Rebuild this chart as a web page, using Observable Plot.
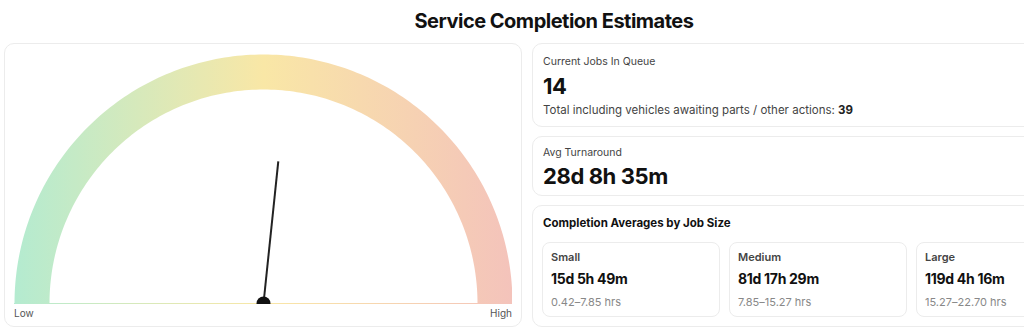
<!DOCTYPE html>
<html>
<head>
<meta charset="utf-8">
<script src="https://cdn.jsdelivr.net/npm/d3@7"></script>
<script src="https://cdn.jsdelivr.net/npm/@observablehq/plot@0.6"></script>
<style>
  html, body { margin: 0; padding: 0; background: #fff; overflow: hidden; }
  body { font-family: Inter, "Noto Sans", sans-serif; color: #111; }
  .wrap { width: 1100px; margin-left: 4px; }
  h1 { margin: 0; padding-top: 9px; height: 24px; line-height: 24px; font-size: 20px; font-weight: 700; letter-spacing: -0.5px; text-align: center; margin-bottom: 10px; color: #111; }
  .row { display: flex; gap: 10px; }
  .card { box-sizing: border-box; border: 1px solid #ececec; border-radius: 10px; background: #fff; }
  .gauge { width: 518px; height: 284px; padding: 10px 9px 0 9px; }
  .gauge svg { display: block; }
  .ends { display: flex; justify-content: space-between; margin-top: 3px; height: 12px; line-height: 12px; font-size: 10px; color: #555; }
  .right { width: 572px; display: flex; flex-direction: column; gap: 9px; }
  .c1 { height: 84px; padding: 11px 10px 0 10px; }
  .c2 { height: 60px; padding: 9px 10px 0 10px; }
  .c3 { height: 122px; padding: 10px 9px 0 9px; }
  .lbl { font-size: 10.5px; line-height: 14px; color: #444; }
  .big { font-size: 22px; line-height: 26px; font-weight: 700; color: #111; margin-top: 3px; letter-spacing: -0.4px; }
  .sub { font-size: 11.5px; line-height: 15px; color: #444; margin-top: 4px; }
  .sub b { color: #222; }
  .c3 h2 { margin: 0 0 0 1px; font-size: 11.5px; line-height: 14px; font-weight: 700; color: #111; }
  .sizes { display: flex; gap: 9px; margin-top: 12px; }
  .size { box-sizing: border-box; width: 178px; height: 75px; border: 1px solid #ececec; border-radius: 8px; padding: 7px 8px 0 8px; }
  .size .n { font-size: 11px; line-height: 14px; font-weight: 600; color: #444; }
  .size .v { font-size: 14px; line-height: 18px; font-weight: 700; color: #111; margin-top: 6px; letter-spacing: -0.3px; }
  .size .r { font-size: 11px; line-height: 14px; color: #888; margin-top: 7px; }
</style>
</head>
<body>
<div class="wrap">
  <h1 id="title"></h1>
  <div class="row">
    <div class="card gauge" id="gauge"></div>
    <div class="right">
      <div class="card c1" id="c1"></div>
      <div class="card c2" id="c2"></div>
      <div class="card c3" id="c3"></div>
    </div>
  </div>
</div>
<script>
// ---- data ----
const titleText = "Service Completion Estimates";
const gaugeDomain = [0, 1];
const gaugeValue = [0.533];
const gaugeEndLabels = ["Low", "High"];
const queueLabel = "Current Jobs In Queue";
const queueJobs = 14;
const totalLabel = "Total including vehicles awaiting parts / other actions:";
const totalJobs = 39;
const turnaroundLabel = "Avg Turnaround";
const avgTurnaround = "28d 8h 35m";
const sizeHeading = "Completion Averages by Job Size";
const jobSizes = ["Small", "Medium", "Large"];
const sizeAverages = ["15d 5h 49m", "81d 17h 29m", "119d 4h 16m"];
const sizeRanges = ["0.42–7.85 hrs", "7.85–15.27 hrs", "15.27–22.70 hrs"];

// ---- styles ----
const gradStops = ["#b4ebd0", "#f9e7a6", "#f4c3bb"];
const innerRatio = 214 / 249;
const needleLength = 0.574;

document.getElementById("title").textContent = titleText;

// gauge geometry (unit semicircle)
const toAngle = d3.scaleLinear().domain(gaugeDomain).range([Math.PI, 0]);
const steps = d3.range(0, 181).map(i => Math.PI - i * Math.PI / 180);
const band = [
  ...steps.map(a => ({x: Math.cos(a), y: Math.sin(a)})),
  ...steps.slice().reverse().map(a => ({x: innerRatio * Math.cos(a), y: innerRatio * Math.sin(a)}))
];
const needle = gaugeValue.map(v => ({x0: 0, y0: 0, x: needleLength * Math.cos(toAngle(v)), y: needleLength * Math.sin(toAngle(v))}));

const W = 498, H = 250;
const defs = () => {
  const d = d3.create("svg:defs");
  const g = d.append("linearGradient").attr("id", "gaugeGrad")
    .attr("gradientUnits", "userSpaceOnUse").attr("x1", 0).attr("x2", W).attr("y1", 0).attr("y2", 0);
  gradStops.forEach((c, i) => g.append("stop").attr("offset", i / (gradStops.length - 1)).attr("stop-color", c));
  return d.node();
};

const chart = Plot.plot({
  width: W,
  height: H,
  marginTop: 0, marginRight: 0, marginLeft: 0, marginBottom: 1,
  x: {domain: [-1, 1], axis: null},
  y: {domain: [0, 1], axis: null},
  style: {overflow: "hidden", background: "transparent"},
  marks: [
    defs,
    Plot.line(band, {x: "x", y: "y", curve: "linear-closed", fill: "url(#gaugeGrad)", stroke: "none"}),
    Plot.ruleY([0], {stroke: "url(#gaugeGrad)", strokeWidth: 1}),
    Plot.link(needle, {x1: "x0", y1: "y0", x2: "x", y2: "y", stroke: "#222", strokeWidth: 2}),
    Plot.dot([{x: 0, y: 0}], {x: "x", y: "y", r: 7, fill: "#111", stroke: "none"})
  ]
});
const gEl = document.getElementById("gauge");
gEl.appendChild(chart);
const ends = document.createElement("div");
ends.className = "ends";
gaugeEndLabels.forEach(t => { const s = document.createElement("span"); s.textContent = t; ends.appendChild(s); });
gEl.appendChild(ends);

document.getElementById("c1").innerHTML =
  `<div class="lbl">${queueLabel}</div><div class="big" style="margin-top:4px">${queueJobs}</div>` +
  `<div class="sub">${totalLabel} <b>${totalJobs}</b></div>`;
document.getElementById("c2").innerHTML =
  `<div class="lbl">${turnaroundLabel}</div><div class="big">${avgTurnaround}</div>`;
document.getElementById("c3").innerHTML =
  `<h2>${sizeHeading}</h2><div class="sizes">` +
  jobSizes.map((s, i) => `<div class="size"><div class="n">${s}</div><div class="v">${sizeAverages[i]}</div><div class="r">${sizeRanges[i]}</div></div>`).join("") +
  `</div>`;
</script>
</body>
</html>
